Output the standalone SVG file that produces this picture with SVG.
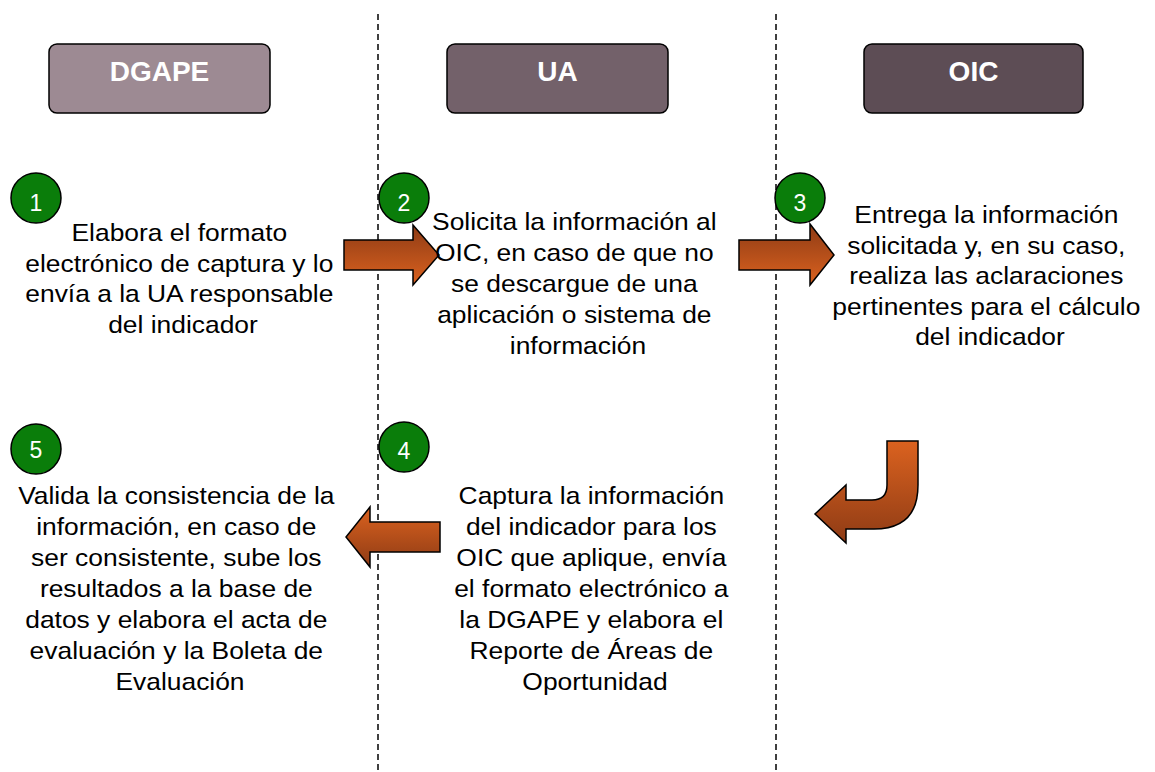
<svg xmlns="http://www.w3.org/2000/svg" width="1155" height="772" viewBox="0 0 1155 772">
<style>
.hdr{stroke:#000;stroke-width:1.5}
.ht{font-family:"Liberation Sans",Arial,sans-serif;font-weight:bold;font-size:28px;fill:#fff;text-anchor:middle}
.num{fill:#0a7d0a;stroke:#000;stroke-width:1.5}
.nt{font-family:"Liberation Sans",Arial,sans-serif;font-size:23px;fill:#fff;text-anchor:middle}
.bt{font-family:"Liberation Sans",Arial,sans-serif;font-size:24px;fill:#000;text-anchor:middle}
.lane{stroke:#000;stroke-width:1.5;stroke-dasharray:6,4;fill:none}
.arr{stroke:#000;stroke-width:1.5;stroke-linejoin:miter}
</style>
<defs>
<linearGradient id="gDown" x1="0" y1="0" x2="0" y2="1">
<stop offset="0" stop-color="#8e3b15"/>
<stop offset="1" stop-color="#db621f"/>
</linearGradient>
<linearGradient id="gUp" x1="0" y1="0" x2="0" y2="1">
<stop offset="0" stop-color="#db621f"/>
<stop offset="1" stop-color="#8e3b15"/>
</linearGradient>
</defs>
<rect width="1155" height="772" fill="#fff"/>
<g id="lanes">
<line class="lane" x1="378" y1="14" x2="378" y2="772"/>
<line class="lane" x1="776" y1="14" x2="776" y2="772"/>
</g>
<g id="hdr-dgape"><rect class="hdr" x="49" y="44" width="221" height="69" rx="8" fill="#9d8a93"/><text class="ht" x="159.5" y="81">DGAPE</text></g>
<g id="hdr-ua"><rect class="hdr" x="447" y="44" width="221" height="69" rx="8" fill="#73616a"/><text class="ht" x="557.5" y="81">UA</text></g>
<g id="hdr-oic"><rect class="hdr" x="864" y="44" width="219" height="69" rx="8" fill="#5d4d55"/><text class="ht" x="973.5" y="81">OIC</text></g>
<g id="connectors">
<path class="arr" fill="url(#gDown)" d="M344,240 H413 V225 L439,255 L413,285 V270 H344 Z"/>
<path class="arr" fill="url(#gDown)" d="M739,240 H810 V224 L834,255 L810,285 V270 H739 Z"/>
<path class="arr" fill="url(#gUp)" d="M887,441 H918 V485 Q918,529 874,529 H846 V543 L815,514 L846,485 V500 H872 Q887,500 887,485 Z"/>
<path class="arr" fill="url(#gUp)" d="M440,522 H370 V507 L346,537 L370,567 V552 H440 Z"/>
</g>
<g id="step1">
<circle class="num" cx="36" cy="198" r="25"/><text class="nt" x="36" y="211">1</text>
<g transform="translate(183,0) scale(1.1,1)"><text class="bt">
<tspan x="0" y="241.5">Elabora el formato</tspan>
<tspan x="0" y="272">electrónico de captura y lo</tspan>
<tspan x="0" y="302.5">envía a la UA responsable</tspan>
<tspan x="0" y="333">del indicador</tspan></text></g>
</g>
<g id="step2">
<circle class="num" cx="404" cy="198" r="25"/><text class="nt" x="404" y="211">2</text>
<g transform="translate(578,0) scale(1.1,1)"><text class="bt">
<tspan x="0" y="230.5">Solicita la información al</tspan>
<tspan x="0" y="261.5">OIC, en caso de que no</tspan>
<tspan x="0" y="292.5">se descargue de una</tspan>
<tspan x="0" y="323.5">aplicación o sistema de</tspan>
<tspan x="0" y="354.5">información</tspan></text></g>
</g>
<g id="step3">
<circle class="num" cx="800" cy="198" r="25"/><text class="nt" x="800" y="211">3</text>
<g transform="translate(990,0) scale(1.1,1)"><text class="bt">
<tspan x="0" y="223.5">Entrega la información</tspan>
<tspan x="0" y="254">solicitada y, en su caso,</tspan>
<tspan x="0" y="284.5">realiza las aclaraciones</tspan>
<tspan x="0" y="315">pertinentes para el cálculo</tspan>
<tspan x="0" y="345.5">del indicador</tspan></text></g>
</g>
<g id="step4">
<circle class="num" cx="404" cy="447" r="25"/><text class="nt" x="404" y="459">4</text>
<g transform="translate(595,0) scale(1.1,1)"><text class="bt">
<tspan x="0" y="504.5">Captura la información</tspan>
<tspan x="0" y="535.5">del indicador para los</tspan>
<tspan x="0" y="566.5">OIC que aplique, envía</tspan>
<tspan x="0" y="597.5">el formato electrónico a</tspan>
<tspan x="0" y="628.5">la DGAPE y elabora el</tspan>
<tspan x="0" y="659.5">Reporte de Áreas de</tspan>
<tspan x="0" y="690.5">Oportunidad</tspan></text></g>
</g>
<g id="step5">
<circle class="num" cx="36" cy="449" r="25"/><text class="nt" x="36" y="458">5</text>
<g transform="translate(180,0) scale(1.1,1)"><text class="bt">
<tspan x="0" y="504.5">Valida la consistencia de la</tspan>
<tspan x="0" y="535.5">información, en caso de</tspan>
<tspan x="0" y="566.5">ser consistente, sube los</tspan>
<tspan x="0" y="597.5">resultados a la base de</tspan>
<tspan x="0" y="628.5">datos y elabora el acta de</tspan>
<tspan x="0" y="659.5">evaluación y la Boleta de</tspan>
<tspan x="0" y="690.5">Evaluación</tspan></text></g>
</g>
</svg>
